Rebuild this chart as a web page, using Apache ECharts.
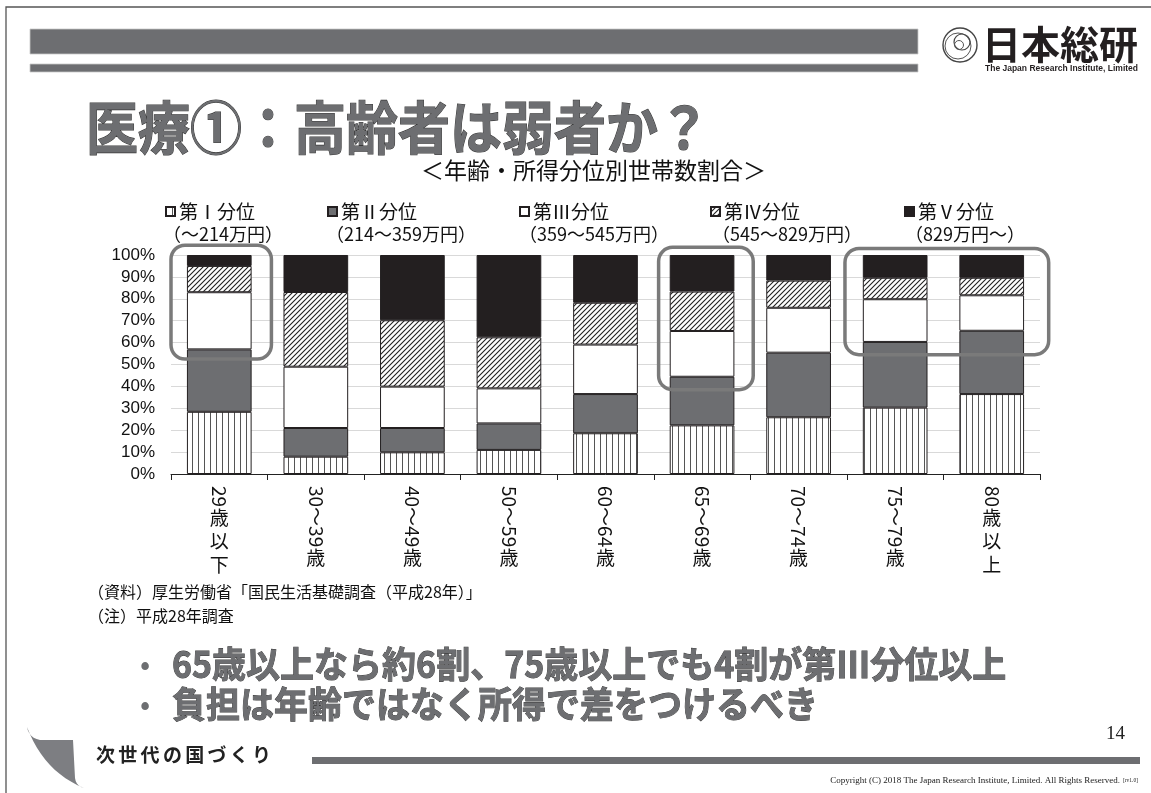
<!DOCTYPE html>
<html><head><meta charset="utf-8">
<script src="https://cdn.jsdelivr.net/npm/echarts@6/dist/echarts.min.js"></script>
<style>html,body{margin:0;padding:0;background:#fff;}#c{width:1151px;height:793px;}</style>
</head><body><div id="c"></div>
<script>
// ---- data ----
const categories = ['29歳以下','30～39歳','40～49歳','50～59歳','60～64歳','65～69歳','70～74歳','75～79歳','80歳以上'];
const seriesNames = ['第Ⅰ分位','第Ⅱ分位','第Ⅲ分位','第Ⅳ分位','第Ⅴ分位'];
const incomeRanges = ['（～214万円）','（214～359万円）','（359～545万円）','（545～829万円）','（829万円～）'];
const q1 = [28.4, 7.9, 9.9, 11.0, 18.6, 22.2, 25.9, 30.3, 36.5];
const q2 = [28.5, 13.1, 11.1, 12.1, 17.9, 22.2, 29.5, 30.0, 28.9];
const q3 = [26.1, 28.0, 18.9, 16.0, 22.6, 20.9, 20.5, 19.5, 16.2];
const q4 = [12.0, 34.1, 30.3, 23.3, 19.1, 18.0, 12.4, 9.8, 8.0];
const q5 = [5.0, 16.9, 29.8, 37.6, 21.8, 16.7, 11.7, 10.4, 10.4];
const yMin = 0, yMax = 100, yStep = 10;

const titleText = '医療①：高齢者は弱者か？';
const subtitleText = '＜年齢・所得分位別世帯数割合＞';
const noteSource = '（資料）厚生労働省「国民生活基礎調査（平成28年）」';
const noteNote = '（注）平成28年調査';
const bullet1 = '65歳以上なら約6割、75歳以上でも4割が第Ⅲ分位以上';
const bullet2 = '負担は年齢ではなく所得で差をつけるべき';
const footerText = '次世代の国づくり';

// ---- patterns ----
function vPattern(){
  const c = document.createElement('canvas'); c.width = 6; c.height = 6;
  const g = c.getContext('2d'); g.fillStyle = '#fff'; g.fillRect(0,0,6,6);
  g.fillStyle = '#555'; g.fillRect(0,0,1,6); return c;
}
function dPattern(){
  const s = 5; const c = document.createElement('canvas'); c.width = s; c.height = s;
  const g = c.getContext('2d'); g.fillStyle = '#fff'; g.fillRect(0,0,s,s);
  g.strokeStyle = '#222'; g.lineWidth = 1.1;
  g.beginPath(); g.moveTo(-1, s+1); g.lineTo(s+1, -1);
  g.moveTo(-1, 1); g.lineTo(1, -1); g.moveTo(s-1, s+1); g.lineTo(s+1, s-1); g.stroke();
  return c;
}
const fills = [
  {image: vPattern(), repeat: 'repeat'},
  '#6d6e71',
  '#ffffff',
  {image: dPattern(), repeat: 'repeat'},
  '#231f20'
];
const values = [q1, q2, q3, q4, q5];

const JP = '"Noto Sans CJK JP"';
const chart = echarts.init(document.getElementById('c'), null, {renderer: 'canvas'});
const legendLeft = [160, 322, 514, 705, 899];

chart.setOption({
  animation: false,
  backgroundColor: '#fff',
  grid: {left: 171, right: 111, top: 255, bottom: 319, containLabel: false},
  legend: seriesNames.map((n, i) => ({
    data: [n], left: legendLeft[i], top: 197, itemWidth: 9, itemHeight: 9, icon: 'rect',
    selectedMode: false, itemGap: 4,
    textStyle: {fontSize: 19, fontFamily: JP, color: '#111', padding: [0,0,0,-1]}
  })),
  xAxis: {
    type: 'category', data: categories,
    axisLine: {lineStyle: {color: '#222', width: 1}},
    axisTick: {show: true, length: 6, lineStyle: {color: '#222'}},
    axisLabel: {show: false}
  },
  yAxis: {
    type: 'value', min: yMin, max: yMax, interval: yStep,
    axisLine: {show: false}, axisTick: {show: false},
    axisLabel: {formatter: '{value}%', fontSize: 17, fontFamily: '"Liberation Sans"', color: '#111', margin: 16},
    splitLine: {lineStyle: {color: '#d9d9d9', width: 1}}
  },
  series: seriesNames.map((n, i) => ({
    name: n, type: 'bar', stack: 'total', barWidth: '67%', data: values[i],
    itemStyle: {color: fills[i], borderColor: '#231f20', borderWidth: 1},
    emphasis: {disabled: true}
  }))
});

// ---- graphics ----
const G = [];
function quad(p0, c, p1, n){ const out = []; for (let k = 1; k <= n; k++){ const t = k/n, u = 1-t; out.push([u*u*p0[0]+2*u*t*c[0]+t*t*p1[0], u*u*p0[1]+2*u*t*c[1]+t*t*p1[1]]); } return out; }
// slide frame
G.push({type: 'rect', shape: {x: 6, y: 7, width: 1160, height: 800}, style: {fill: 'none', stroke: '#555', lineWidth: 1.3}, silent: true});
// header bars
G.push({type: 'rect', shape: {x: 30, y: 29, width: 888, height: 25}, style: {fill: '#6d6e71', stroke: '#c8c8c8', lineWidth: 0.8}});
G.push({type: 'rect', shape: {x: 30, y: 64, width: 888, height: 8}, style: {fill: '#6d6e71', stroke: '#c8c8c8', lineWidth: 0.8}});
// logo mark
G.push({type: 'circle', shape: {cx: 960, cy: 45, r: 17}, style: {fill: 'none', stroke: '#444', lineWidth: 1.4}});
G.push({type: 'circle', shape: {cx: 958, cy: 46, r: 13}, style: {fill: 'none', stroke: '#555', lineWidth: 1}});
G.push({type: 'circle', shape: {cx: 962, cy: 42, r: 8}, style: {fill: 'none', stroke: '#444', lineWidth: 1.2}});
G.push({type: 'circle', shape: {cx: 959, cy: 45, r: 4.5}, style: {fill: 'none', stroke: '#555', lineWidth: 1}});
G.push({type: 'text', x: 982, y: 44, style: {text: '日本総研', fontSize: 39, fontFamily: JP, fontWeight: 'bold', fill: '#231f20', verticalAlign: 'middle'}});
G.push({type: 'text', x: 985, y: 69, style: {text: 'The Japan Research Institute, Limited', fontSize: 8.5, fontWeight: 'bold', fontFamily: '"Liberation Sans Narrow", "Liberation Sans"', fill: '#231f20', verticalAlign: 'middle'}});
// title
G.push({type: 'text', x: 86, y: 127, scaleY: 1.1, style: {text: titleText, fontSize: 52, fontWeight: 'bold', fontFamily: JP, fill: '#6d6e71', stroke: '#3a3a3a', lineWidth: 1, verticalAlign: 'middle'}});
G.push({type: 'text', x: 421, y: 170, style: {text: subtitleText, fontSize: 23, fontFamily: JP, fill: '#111', verticalAlign: 'middle'}});
// income ranges under legend
const rangeLeft = [163, 326, 519, 712, 905];
incomeRanges.forEach((t, i) => G.push({type: 'text', x: rangeLeft[i], y: 234, style: {text: t, fontSize: 18, fontFamily: JP, fill: '#111', verticalAlign: 'middle'}}));
// notes
G.push({type: 'text', x: 88, y: 592, style: {text: noteSource, fontSize: 16, fontFamily: JP, fill: '#111', verticalAlign: 'middle'}});
G.push({type: 'text', x: 88, y: 616, style: {text: noteNote, fontSize: 16, fontFamily: JP, fill: '#111', verticalAlign: 'middle'}});
// bullets
[[bullet1, 664], [bullet2, 704]].forEach(([t, y]) => {
  G.push({type: 'text', x: 140, y: y, style: {text: '•', fontSize: 30, fontFamily: JP, fill: '#6d6e71', verticalAlign: 'middle'}});
  G.push({type: 'text', x: 172, y: y, scaleY: 1.06, style: {text: t, fontSize: 34, fontWeight: 'bold', fontFamily: JP, fill: '#6d6e71', stroke: '#3a3a3a', lineWidth: 0.8, verticalAlign: 'middle'}});
});
// footer swoosh
const sw = [[27,727]].concat(quad([27,727],[29,738],[40,740],6), [[73,740],[75,778]], quad([75,778],[76,786],[84,788],5), quad([84,788],[44,772],[27,727],12));
G.push({type: 'polygon', shape: {points: sw}, style: {fill: '#7d7e82'}});
Array.from(footerText).forEach((ch, k) => G.push({type: 'text', x: 96 + k * 22.3, y: 755, style: {text: ch, fontSize: 19, fontWeight: 'bold', fontFamily: JP, fill: '#222', verticalAlign: 'middle'}}));
G.push({type: 'rect', shape: {x: 312, y: 757, width: 828, height: 7}, style: {fill: '#6d6e71'}});
G.push({type: 'text', x: 1125, y: 734, style: {text: '14', fontSize: 19, fontFamily: '"Liberation Serif"', fill: '#222', align: 'right', verticalAlign: 'middle'}});
G.push({type: 'text', x: 1120, y: 781, style: {text: 'Copyright (C) 2018 The Japan Research Institute, Limited. All Rights Reserved.', fontSize: 9, fontFamily: '"Liberation Serif"', fill: '#222', align: 'right', verticalAlign: 'middle'}});
G.push({type: 'text', x: 1138, y: 781, style: {text: '[rv1.0]', fontSize: 5.5, fontFamily: '"Liberation Serif"', fill: '#222', align: 'right', verticalAlign: 'middle'}});

// x-axis labels in vertical writing (digits rotated, kanji upright)
const xFontSize = 19;
const mctx = document.createElement('canvas').getContext('2d');
mctx.font = xFontSize + 'px ' + JP;
const y0 = chart.convertToPixel({yAxisIndex: 0}, yMin);
categories.forEach((c, i) => {
  const m = c.match(/^([0-9～]+)(.*)$/);
  const cx = chart.convertToPixel({xAxisIndex: 0}, i);
  let y = y0 + 12;
  G.push({type: 'text', x: cx, y: y, rotation: -Math.PI / 2, style: {text: m[1], fontSize: xFontSize, fontFamily: JP, fill: '#111', align: 'left', verticalAlign: 'middle'}});
  y += mctx.measureText(m[1]).width + 1;
  for (const ch of m[2]) {
    G.push({type: 'text', x: cx, y: y, style: {text: ch, fontSize: xFontSize, fontFamily: JP, fill: '#111', align: 'center', verticalAlign: 'top'}});
    y += 23.5;
  }
});

// highlight boxes (annotations tied to category / value scale)
const band = chart.convertToPixel({xAxisIndex: 0}, 1) - chart.convertToPixel({xAxisIndex: 0}, 0);
const boxes = [
  {from: 0, to: 0, padL: 0.50, padR: 0.54, low: 52.5, high: 104.5},
  {from: 5, to: 5, padL: 0.45, padR: 0.53, low: 38.5, high: 103.5},
  {from: 7, to: 8, padL: 0.52, padR: 0.59, low: 54.5, high: 103.0}
];
boxes.forEach(b => {
  const x1 = chart.convertToPixel({xAxisIndex: 0}, b.from) - band * b.padL;
  const x2 = chart.convertToPixel({xAxisIndex: 0}, b.to) + band * b.padR;
  const yT = chart.convertToPixel({yAxisIndex: 0}, b.high);
  const yB = chart.convertToPixel({yAxisIndex: 0}, b.low);
  G.push({type: 'rect', z: 100, shape: {x: x1, y: yT, width: x2 - x1, height: yB - yT, r: 14}, style: {fill: 'none', stroke: '#7a7a7a', lineWidth: 3.5}});
});

chart.setOption({graphic: G});
</script></body></html>
